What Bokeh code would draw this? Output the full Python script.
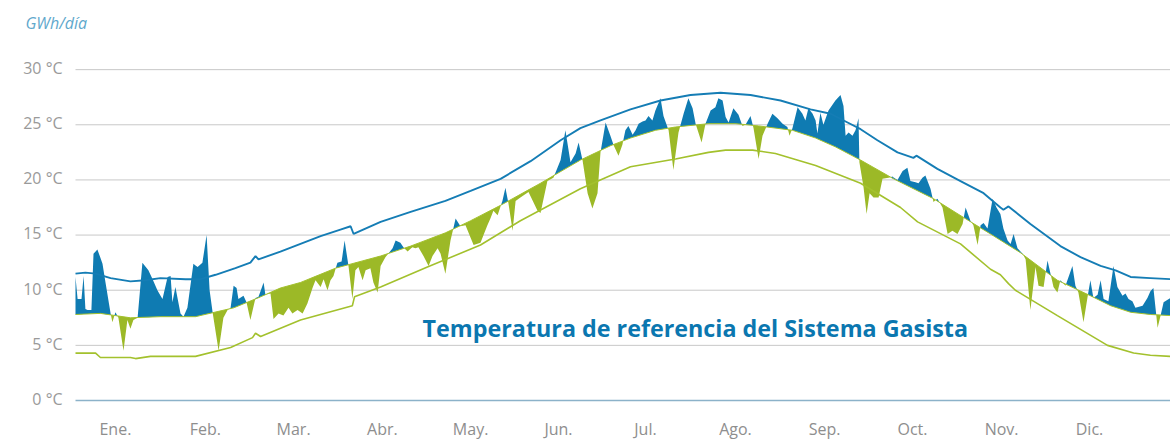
import numpy as np
from bokeh.plotting import figure
from bokeh.models import Range1d
from bokeh.core.properties import value
from bokeh.embed import file_html
from bokeh.resources import INLINE

# ---- data (day of year, °C) ----
upper_day = [0, 3.3, 6.7, 11.7, 18.3, 23.3, 28.3, 36.7, 41.7, 46.7, 53.3, 58.3, 60, 61, 68.3, 75, 81.7, 88.3,
             91.7, 92.7, 101.7, 111.7, 123.3, 131.7, 141.7, 151.7, 161.7, 168.3, 175, 185, 195, 205, 215, 225,
             235, 245, 251.7, 256.7, 261.7, 267.3, 274, 279.3, 280.3, 287.3, 295, 302.7, 308.3, 309.3, 311,
             318.3, 328.3, 335, 341.7, 346.7, 351.7, 358.3, 365]
upper_temp = [11.5, 11.6, 11.5, 11.1, 10.8, 10.9, 11.1, 11.0, 11.0, 11.4, 12.0, 12.5, 13.1, 12.8, 13.5, 14.2, 14.9,
              15.5, 15.8, 15.1, 16.2, 17.1, 18.1, 19.0, 20.1, 21.7, 23.6, 24.7, 25.4, 26.4, 27.2, 27.7, 27.9, 27.7,
              27.2, 26.4, 26.0, 25.3, 24.6, 23.6, 22.5, 22.0, 22.2, 21.0, 19.9, 18.8, 17.5, 17.3, 17.6,
              16.0, 14.0, 13.0, 12.2, 11.8, 11.2, 11.1, 11.0]

mid_day = [0, 8.3, 13.3, 18.3, 28.3, 40, 52.7, 61.7, 68.3, 75, 86.7, 101.7, 111.7, 123.3, 131.7, 141.7, 155,
           168.3, 178.3, 185, 193.3, 200, 211, 220, 227.7, 239, 246.7, 253.3, 261.7, 272.7, 286, 296, 305,
           315, 327.3, 338.3, 345, 351.7, 358.3, 365]
mid_temp = [7.8, 7.9, 7.7, 7.5, 7.6, 7.6, 8.4, 9.4, 10.2, 10.7, 12.0, 13.1, 14.0, 15.2, 16.3, 17.7, 19.7,
            21.8, 23.1, 23.8, 24.5, 24.8, 25.1, 25.1, 24.9, 24.5, 23.8, 23.0, 21.8, 20.1, 18.3, 16.6, 15.1,
            13.4, 10.9, 9.5, 8.6, 8.0, 7.8, 7.7]

lower_day = [0, 6.7, 8.3, 18.3, 20, 25, 40, 51.7, 59, 60, 61.7, 75, 92.3, 93, 101.7, 117.3, 135, 148.3, 168.3,
             185, 200, 211, 216.7, 225.7, 233.3, 246.7, 261.7, 275, 280.7, 295, 305, 308.3, 311, 313.3, 327.3,
             344, 352.7, 358.3, 365]
lower_temp = [4.3, 4.3, 3.9, 3.9, 3.8, 4.0, 4.0, 4.8, 5.7, 6.1, 5.8, 7.3, 8.6, 9.4, 10.3, 12.1, 14.1, 16.3, 19.2,
              21.2, 21.9, 22.5, 22.7, 22.7, 22.4, 21.3, 19.7, 17.5, 16.2, 14.2, 11.9, 11.4, 10.6, 10.0, 7.7,
              5.0, 4.3, 4.1, 4.0]

real_day = [0, 0.7, 2, 2.7, 3.3, 4, 5.3, 6, 7.3, 9, 10, 11.7, 12.3, 13.3, 14.3, 16, 17.3, 18.3, 19.3, 20.7,
            22.3, 24.3, 25.7, 27.3, 29, 30.7, 31.7, 32.3, 33.3, 35, 36, 37.3, 39.3, 40.7, 42.3, 43.7, 44.7,
            45.7, 47.7, 49.3, 50.7, 51.7, 52.7, 53.7, 54.3, 56, 57, 58.3, 60, 61, 62.7, 63.3, 65, 66, 67.7,
            69.3, 71, 72.3, 74, 75.7, 77.3, 79, 80, 81.7, 82.7, 84, 85, 86, 87.3, 88.7, 89.7, 91, 92.3, 93.3,
            94.3, 95.7, 96.7, 98.3, 99.3, 100.7, 101.7, 103.3, 105.7, 106.7, 108.3, 109.3, 110.7, 112.3,
            113.3, 114.3, 116, 117.7, 119, 120.7, 121.7, 123.3, 125, 126.7, 128.3, 130, 132.7, 135, 137.3,
            138.3, 139.3, 140.7, 142.3, 143.3, 144.3, 145.7, 146.7, 148.3, 151, 154, 155, 157.3, 159.3,
            161.7, 163.3, 165, 166.7, 167.7, 169, 170.7, 172.3, 174, 175, 176.7, 178.3, 179.3, 181, 182.3,
            183.3, 184.3, 185.7, 186.7, 187.7, 189, 190, 191, 192.3, 193.3, 195, 196, 197.7, 199.3, 201,
            202.7, 204.3, 205.7, 206.7, 208.7, 210, 211.7, 213.3, 214.3, 215.7, 216.7, 217.7, 219.3, 221,
            222.3, 223.3, 225, 226, 227.7, 229, 230.7, 232.3, 234, 235.7, 237.3, 238, 239, 240.7, 242.3,
            243.3, 244.3, 245.7, 246.7, 247.3, 248.3, 249.3, 251, 253.3, 255, 256, 256.7, 257.7, 259, 260,
            261, 261.3, 262.7, 263.7, 264.7, 266, 267.7, 269, 271, 272.3, 274, 275.7, 277.3, 278.3, 280,
            281, 282.3, 283.3, 285, 286, 287.3, 289, 290.7, 292.3, 294, 295.7, 296.7, 298.3, 299.3, 300.7,
            301.7, 302.7, 304, 305.7, 307, 308.3, 309.3, 310.7, 311.7, 312.7, 314, 315.7, 316.7, 318.3, 320,
            321, 322.7, 324, 325, 326, 327.3, 328.3, 330, 332.3, 333.3, 334.3, 336, 337.3, 338.3, 339.3,
            340.7, 341.7, 342.7, 344.3, 346, 347.3, 349, 350, 351, 352.3, 353.3, 355.7, 357.3, 358.3, 359.3,
            360.7, 361.7, 362.7, 365]
real_temp = [11.2, 9.2, 9.2, 11.3, 8.3, 8.2, 8.2, 13.3, 13.7, 12.4, 10.7, 7.9, 7.1, 8.0, 7.5, 4.5, 7.3, 6.5,
             7.3, 7.5, 12.5, 11.8, 11.0, 10.0, 9.2, 11.2, 11.3, 8.9, 10.3, 7.9, 7.6, 8.4, 12.4, 12.1, 12.5,
             15.0, 10.0, 8.0, 4.5, 7.5, 8.2, 8.4, 10.4, 10.2, 9.2, 9.5, 8.9, 7.3, 9.3, 9.4, 10.7, 9.6, 9.7,
             7.4, 7.9, 7.7, 8.4, 7.9, 8.2, 7.9, 8.8, 10.2, 10.9, 10.3, 11.0, 10.0, 10.9, 11.3, 12.5, 12.6,
             14.5, 12.2, 9.2, 11.8, 12.1, 10.9, 11.8, 12.0, 10.7, 9.8, 12.2, 13.0, 13.8, 14.5, 14.3, 13.9,
             13.5, 13.9, 13.8, 13.9, 13.1, 12.2, 13.1, 13.8, 13.3, 11.5, 14.5, 16.5, 15.8, 15.9, 14.1, 14.3,
             15.9, 16.5, 17.2, 16.8, 18.1, 19.3, 17.9, 15.4, 18.1, 18.4, 18.9, 17.2, 17.0, 19.9, 20.2, 21.8,
             24.5, 21.6, 22.4, 23.4, 21.8, 18.8, 17.4, 18.8, 22.5, 25.2, 24.0, 23.2, 22.2, 23.2, 24.5, 24.9,
             24.1, 24.5, 25.1, 25.3, 25.4, 25.8, 25.4, 26.3, 27.4, 25.8, 24.5, 20.9, 24.3, 26.0, 27.4, 26.5,
             25.1, 23.4, 25.1, 26.3, 26.6, 27.4, 27.2, 25.7, 25.2, 26.5, 25.9, 24.9, 25.0, 25.8, 24.7, 21.9,
             24.0, 25.1, 26.0, 25.6, 25.1, 24.8, 24.0, 24.7, 26.6, 26.0, 25.4, 26.5, 26.0, 25.4, 24.2, 26.1,
             25.0, 26.3, 27.2, 27.7, 26.7, 24.0, 24.3, 24.0, 24.5, 25.6, 21.6, 19.3, 16.9, 18.8, 18.4, 18.4,
             20.1, 20.2, 20.3, 20.0, 20.8, 21.1, 19.9, 19.8, 19.7, 20.2, 20.4, 19.2, 18.0, 18.3, 17.5, 15.1,
             15.4, 15.1, 16.0, 17.5, 16.3, 15.9, 14.1, 15.9, 16.1, 15.6, 18.3, 17.5, 16.9, 15.6, 14.5, 14.2,
             15.1, 13.8, 13.3, 12.8, 8.2, 12.1, 10.4, 10.3, 12.7, 11.5, 10.3, 9.8, 10.9, 10.4, 12.2, 10.4,
             9.8, 7.1, 9.3, 10.9, 9.3, 9.6, 10.9, 9.2, 9.0, 12.2, 10.3, 9.5, 9.7, 9.2, 9.0, 8.4, 8.6, 9.3,
             9.9, 10.2, 6.6, 7.7, 8.9, 9.3]

month_labels = ["Ene.", "Feb.", "Mar.", "Abr.", "May.", "Jun.", "Jul.", "Ago.", "Sep.", "Oct.", "Nov.", "Dic."]
month_pos = [13.3, 43.3, 72.7, 102.3, 131.7, 161, 190, 220, 249.7, 279, 308.7, 338]
y_ticks = [0, 5, 10, 15, 20, 25, 30]
y_tick_labels = ["0 °C", "5 °C", "10 °C", "15 °C", "20 °C", "25 °C", "30 °C"]

title_text = "Temperatura de referencia del Sistema Gasista"
unit_text = "GWh/día"

BLUE = "#0f7bb2"
GREEN = "#9cb927"
LINE_BLUE = "#157db5"
LINE_GREEN = "#a3c12d"
FONT = value("Open Sans")

# ---- fill geometry: common grid of both polylines, plus crossing points ----
xa, ya = np.array(real_day, float), np.array(real_temp, float)
xm, ym = np.array(mid_day, float), np.array(mid_temp, float)
xs = np.union1d(xa, xm)
a = np.interp(xs, xa, ya)
m = np.interp(xs, xm, ym)
d = a - m
cross = []
for i in range(len(xs) - 1):
    if d[i] * d[i + 1] < 0:
        t = d[i] / (d[i] - d[i + 1])
        cross.append(xs[i] + t * (xs[i + 1] - xs[i]))
xs2 = np.union1d(xs, np.array(cross))
a2 = np.interp(xs2, xa, ya)
m2 = np.interp(xs2, xm, ym)

x0, x1 = mid_day[0], mid_day[-1]

# ---- figure: frame covers the whole canvas, everything drawn in data space ----
p = figure(width=1170, height=440, output_backend="svg", toolbar_location=None,
           x_range=Range1d(-25, 365), y_range=Range1d(-3.627, 36.27),
           x_axis_location=None, y_axis_location=None,
           min_border_left=0, min_border_right=0, min_border_top=0, min_border_bottom=0)
p.outline_line_color = None
p.grid.visible = False
p.background_fill_color = "white"
p.border_fill_color = "white"

# gridlines
p.segment(x0=[x0] * (len(y_ticks) - 1), x1=[x1] * (len(y_ticks) - 1), y0=y_ticks[1:], y1=y_ticks[1:],
          line_color="#c8c8c8", line_width=1)
# y tick labels
p.text(x=[-4.3] * len(y_ticks), y=[t + 0.15 for t in y_ticks], text=y_tick_labels,
       text_align="right", text_baseline="middle", text_font=FONT,
       text_font_size="16px", text_color="#9a9a9a")

# fills
p.varea(x=xs2, y1=m2, y2=np.maximum(a2, m2), fill_color=BLUE)
p.varea(x=xs2, y1=np.minimum(a2, m2), y2=m2, fill_color=GREEN)

# lines
p.line(mid_day, mid_temp, line_color=LINE_GREEN, line_width=1.0)
p.line(upper_day, upper_temp, line_color=LINE_BLUE, line_width=1.9)
p.line(lower_day, lower_temp, line_color=LINE_GREEN, line_width=1.6)

# bottom axis line at 0
p.line([x0, x1], [0, 0], line_color="#8cb2c9", line_width=1.3)

# month labels
p.text(x=month_pos, y=[-2.6] * len(month_pos), text=month_labels,
       text_align="center", text_baseline="middle", text_font=FONT,
       text_font_size="16px", text_color="#8e8e8e")

# title inside the plot
p.text(x=[115.7], y=[6.55], text=[title_text], text_align="left", text_baseline="middle",
       text_font=FONT, text_font_style="bold", text_font_size="23.3px", text_color="#0b77b0")

# unit label
p.text(x=[-16.7], y=[34.27], text=[unit_text], text_align="left", text_baseline="middle",
       text_font=FONT, text_font_style="italic", text_font_size="16px", text_color="#5fa8cc")

open("out.html", "w").write(file_html(p, INLINE))
